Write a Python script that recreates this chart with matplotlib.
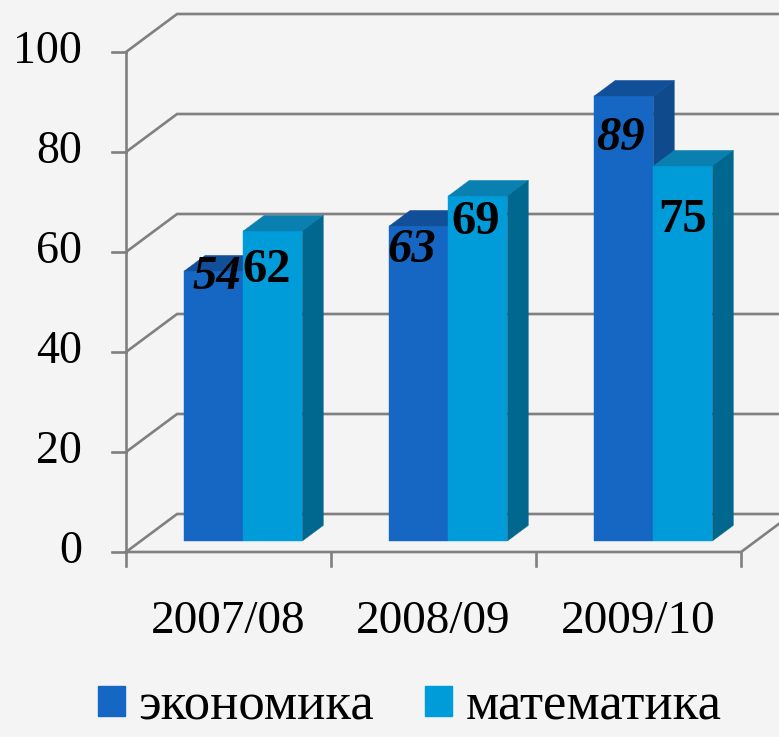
import matplotlib.pyplot as plt
from matplotlib.patches import Polygon, Patch

plt.rcParams['font.family'] = ['Liberation Serif', 'DejaVu Serif']

# data
years = ['2007/08', '2008/09', '2009/10']
economics = [54, 63, 89]
maths = [62, 69, 75]
series_names = ['экономика', 'математика']
yticks = [0, 20, 40, 60, 80, 100]

# where the value labels sit (x shift in category units, y shift in value units)
eco_lbl_dx = [0.017, -0.034, -0.017]
eco_lbl_dy = [-1.2, -4.8, -8.4]
math_lbl_dx = [-0.028, -0.01, 0.0]
math_lbl_dy = [-7.8, -5.2, -10.8]

# colours: front, top, side
eco_cols = ('#1567c3', '#114f98', '#0f4a8c')
math_cols = ('#009bd9', '#0a80b0', '#00678e')
grid_col = '#808080'

# fake 3d: full depth offset and bar depth range
DX, DY = 0.249, 7.6
F0, F1 = 0.29, 0.70
BAR_W = 0.288
VMAX = 100


def proj(c, v, f):
    return (c + f * DX, v + f * DY)


fig = plt.figure(figsize=(7.79, 7.37), dpi=100)
fig.patch.set_facecolor('#f4f4f4')
ax = fig.add_axes([0, 0, 1, 1])
ax.set_xlim(-0.6146, 3.185)
ax.set_ylim(-37, 110.4)
ax.axis('off')

n = len(years)

# walls: gridlines run along the left wall then across the back wall
for t in yticks:
    x0, y0 = proj(0, t, 0)
    x1, y1 = proj(0, t, 1)
    ax.plot([x0, x1, 4], [y0, y1, y1], color=grid_col, lw=1.9,
            solid_joinstyle='miter', zorder=1)
    ax.plot([x0 - 0.068, x0], [y0, y0], color=grid_col, lw=1.9, zorder=1)
    ax.text(x0 - 0.215, t, str(t), ha='right', va='center', fontsize=33,
            color='black')

# front axis line and floor edges
ax.plot([0, 0], [0, VMAX], color=grid_col, lw=1.9, zorder=2)
fx, fy = proj(n, 0, 1)
ax.plot([0, n, fx], [0, 0, fy], color=grid_col, lw=1.9,
        solid_joinstyle='miter', zorder=2)
for i in range(n + 1):
    ax.plot([i, i], [0, -2.8], color=grid_col, lw=1.9, zorder=2)


def bar3d(x0, x1, h, cols):
    front = [proj(x0, 0, F0), proj(x1, 0, F0), proj(x1, h, F0), proj(x0, h, F0)]
    top = [proj(x0, h, F0), proj(x1, h, F0), proj(x1, h, F1), proj(x0, h, F1)]
    side = [proj(x1, 0, F0), proj(x1, 0, F1), proj(x1, h, F1), proj(x1, h, F0)]
    for pts, col in zip((front, top, side), cols):
        ax.add_patch(Polygon(pts, closed=True, facecolor=col, edgecolor=col,
                             lw=0.3, zorder=3))


for i in range(n):
    c = i + 0.5
    bar3d(c - BAR_W, c, economics[i], eco_cols)
    bar3d(c, c + BAR_W, maths[i], math_cols)

# value labels
for i in range(n):
    c = i + 0.5
    x, y = proj(c - BAR_W / 2 + eco_lbl_dx[i], economics[i] + eco_lbl_dy[i], F0)
    ax.text(x, y, str(economics[i]), ha='center', va='center', fontsize=35,
            fontweight='bold', fontstyle='italic', zorder=5)
    x, y = proj(c + BAR_W / 2 + math_lbl_dx[i], maths[i] + math_lbl_dy[i], F0)
    ax.text(x, y, str(maths[i]), ha='center', va='center', fontsize=35,
            fontweight='bold', zorder=5)

# category labels
for i, name in enumerate(years):
    ax.text(i + 0.5, -14, name, ha='center', va='center', fontsize=34)

handles = [Patch(facecolor=eco_cols[0], edgecolor=eco_cols[0]),
           Patch(facecolor=math_cols[0], edgecolor=math_cols[0])]
fig.legend(handles, series_names, loc='lower center', ncol=2,
           bbox_to_anchor=(0.526, -0.027), frameon=False, fontsize=38,
           handlelength=0.51, handleheight=0.51, handletextpad=0.25,
           columnspacing=0.97, borderpad=0)

fig.savefig('out.png', dpi=100, facecolor=fig.get_facecolor())
